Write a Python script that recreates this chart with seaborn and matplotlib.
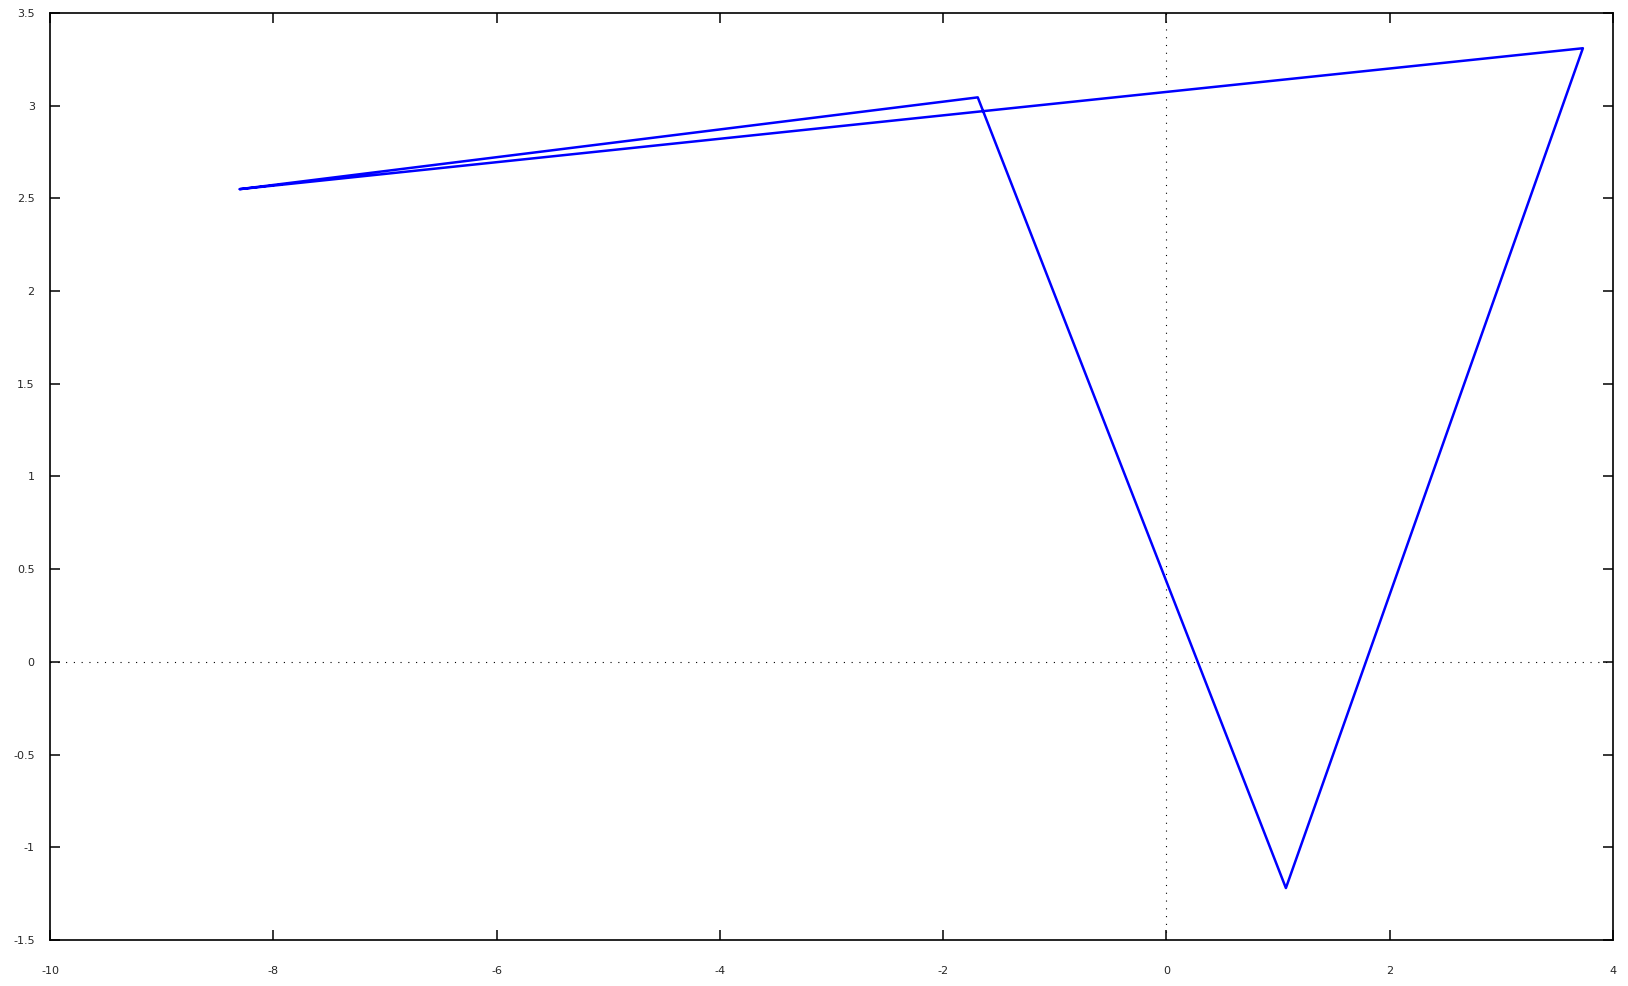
import numpy as np
import pandas as pd
import matplotlib
matplotlib.use("Agg")
import matplotlib.pyplot as plt
import seaborn as sns

# closed path
x_vals = [-8.30, -1.69, 1.07, 3.73, -8.30]
y_vals = [2.55, 3.045, -1.22, 3.31, 2.55]

x_ticks = [-10, -8, -6, -4, -2, 0, 2, 4]
y_ticks = [-1.5, -1, -0.5, 0, 0.5, 1, 1.5, 2, 2.5, 3, 3.5]


def tick_text(v):
    return f"{v:g}"


def make_plot():
    sns.set_style("ticks")
    plt.rcParams['font.family'] = ['DejaVu Sans']

    df = pd.DataFrame({"x": x_vals, "y": y_vals, "order": np.arange(len(x_vals))})

    fig = plt.figure(figsize=(16.28, 9.86), dpi=100)
    ax = fig.add_axes([0.0307, 0.0467, 0.9601, 0.9401])

    # zero axes, dotted
    ax.axhline(0, color="black", lw=0.8, linestyle=(0, (1, 6)), zorder=1)
    ax.axvline(0, color="black", lw=0.8, linestyle=(0, (1, 6)), zorder=1)

    sns.lineplot(data=df, x="x", y="y", sort=False, estimator=None,
                 color="#0000ff", lw=1.8, ax=ax, zorder=3)

    ax.set_xlim(-10, 4)
    ax.set_ylim(-1.5, 3.5)
    ax.set_xticks(x_ticks)
    ax.set_xticklabels([tick_text(v) for v in x_ticks])
    ax.set_yticks(y_ticks)
    ax.set_yticklabels([tick_text(v) for v in y_ticks])
    ax.set_xlabel("")
    ax.set_ylabel("")

    ax.tick_params(direction="in", length=7, width=1.1, labelsize=8,
                   top=True, right=True, color="black")
    ax.tick_params(axis="x", pad=19)
    ax.tick_params(axis="y", pad=11)
    for s in ax.spines.values():
        s.set_linewidth(1.2)
        s.set_color("black")
        s.set_visible(True)

    fig.savefig("out.png", dpi=100)


if __name__ == "__main__":
    make_plot()
